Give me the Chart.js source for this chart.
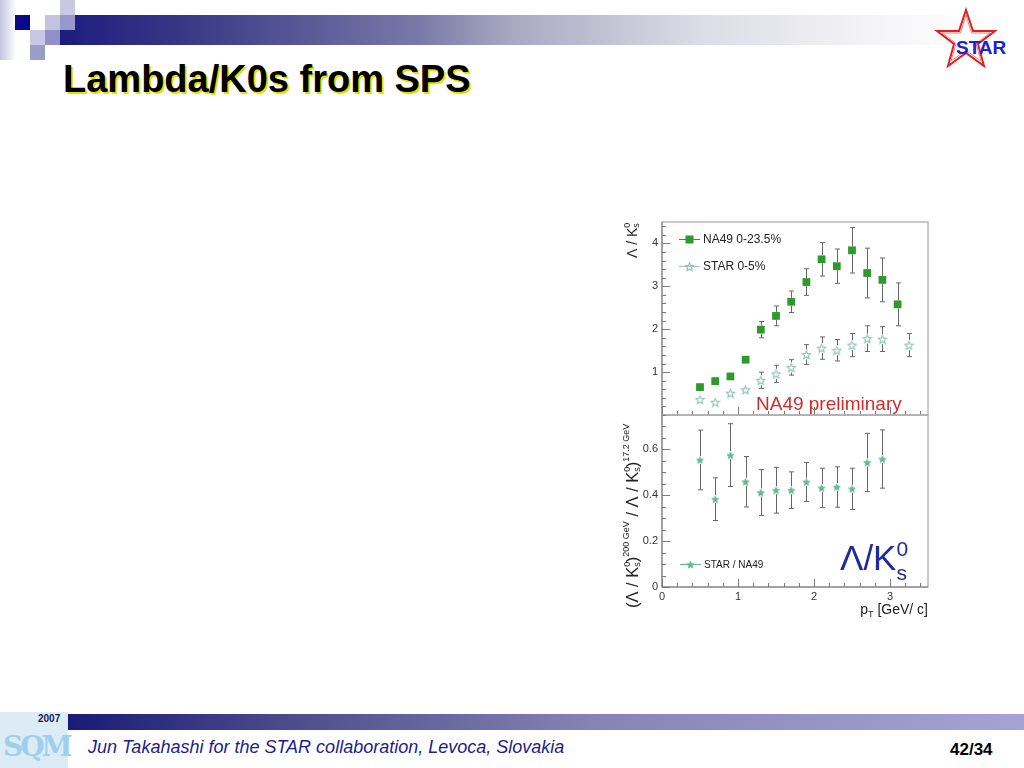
<!DOCTYPE html>
<html>
<head>
<meta charset="utf-8">
<script src="https://cdn.jsdelivr.net/npm/chart.js@4.4.1/dist/chart.umd.min.js"></script>
<style>
  body { margin: 0; width: 1024px; height: 768px; position: relative; overflow: hidden; background: #fff; font-family: Arial, "Liberation Sans", sans-serif; }
  .abs { position: absolute; }
  .sq { position: absolute; width: 15px; height: 15px; }
  #title { left: 63px; top: 58px; font-size: 38px; font-weight: bold; color: #000; text-shadow: 2px 2px 0 #e6e000; white-space: nowrap; }
  #footText { left: 88px; top: 737px; font-size: 18px; font-style: italic; color: #1c1c8c; white-space: nowrap; }
  #pageNo { left: 950px; top: 740px; font-size: 17px; font-weight: bold; color: #000; }
  #topChart { left: 600px; top: 212px; }
  #botChart { left: 600px; top: 410px; }
</style>
</head>
<body>
<!-- header decoration -->
<div class="abs" style="left:0;top:0;width:16px;height:60px;background:linear-gradient(to right,#c4c4e0,#fff)"></div>
<div class="abs" style="left:60px;top:15px;width:940px;height:30px;background:linear-gradient(to right,#1c1c7e 0%,#3c3c88 15%,#7878a8 38%,#a8a8c2 48%,#dcdce6 68%,#f6f6f8 88%,#fff 100%)"></div>
<div class="sq" style="left:60px;top:0;background:#c8c8e2"></div>
<div class="sq" style="left:15px;top:15px;background:#0a0a88"></div>
<div class="sq" style="left:45px;top:15px;background:#c4c4e0"></div>
<div class="sq" style="left:60px;top:15px;background:#9898cc"></div>
<div class="sq" style="left:30px;top:30px;background:#c8c8e4"></div>
<div class="sq" style="left:45px;top:30px;background:#9090c6"></div>
<div class="sq" style="left:30px;top:45px;background:#9c9cc8"></div>

<svg class="abs" style="left:928px;top:6px" width="92" height="68" viewBox="0 0 92 68">
  <polygon points="38,4 45,25 67,25 50,38 56,60 38,47 20,60 26,38 9,25 31,25" fill="none" stroke="#e02020" stroke-width="2"/>
  <polygon points="38,9 43.5,27 62,27 48,37.5 53,55 38,44.5 23,55 28,37.5 14,27 32.5,27" fill="none" stroke="#f08080" stroke-width="1"/>
  <text x="28" y="48" font-family="Arial, Liberation Sans, sans-serif" font-weight="bold" font-size="19" fill="#2020d0">STAR</text>
</svg>

<div id="title" class="abs">Lambda/K0s from SPS</div>

<!-- charts -->
<canvas id="topChart" class="abs" width="340" height="209"></canvas>
<canvas id="botChart" class="abs" width="340" height="218"></canvas>

<!-- footer -->
<div class="abs" style="left:68px;top:714px;width:956px;height:16px;background:linear-gradient(to right,#1a1a78 0%,#50508e 25%,#8484b6 55%,#a4a4d4 100%)"></div>
<div class="abs" style="left:0;top:712px;width:68px;height:56px;background:#dcecf6"></div>
<div class="abs" style="left:3px;top:730px;font-size:28px;font-weight:bold;color:#9fd0ea;letter-spacing:-3px;font-family:'DejaVu Serif',serif">SQM</div>
<div class="abs" style="left:38px;top:713px;font-size:10px;font-weight:bold;color:#1a1a50">2007</div>
<div id="footText" class="abs">Jun Takahashi for the STAR collaboration, Levoca, Slovakia</div>
<div id="pageNo" class="abs">42/34</div>

<script>
// ---- data ----
const ptNA49 = [0.5, 0.7, 0.9, 1.1, 1.3, 1.5, 1.7, 1.9, 2.1, 2.3, 2.5, 2.7, 2.9, 3.1];
const na49Ratio = [0.65, 0.79, 0.90, 1.29, 1.99, 2.31, 2.64, 3.10, 3.63, 3.47, 3.84, 3.31, 3.15, 2.58];
const na49Err = [0.03, 0.03, 0.04, 0.06, 0.19, 0.23, 0.25, 0.31, 0.39, 0.40, 0.53, 0.58, 0.51, 0.50];

const ptSTAR = [0.5, 0.7, 0.9, 1.1, 1.3, 1.5, 1.7, 1.9, 2.1, 2.3, 2.5, 2.7, 2.9, 3.25];
const starRatio = [0.36, 0.30, 0.51, 0.59, 0.81, 0.96, 1.11, 1.41, 1.56, 1.51, 1.63, 1.78, 1.77, 1.63];
const starErr = [0.04, 0.04, 0.05, 0.06, 0.19, 0.20, 0.18, 0.23, 0.26, 0.25, 0.27, 0.30, 0.29, 0.27];

const ptDouble = [0.5, 0.7, 0.9, 1.1, 1.3, 1.5, 1.7, 1.9, 2.1, 2.3, 2.5, 2.7, 2.9];
const doubleRatio = [0.554, 0.383, 0.575, 0.459, 0.412, 0.422, 0.422, 0.458, 0.432, 0.436, 0.428, 0.543, 0.558];
const doubleErr = [0.130, 0.093, 0.137, 0.110, 0.100, 0.100, 0.080, 0.085, 0.086, 0.088, 0.090, 0.127, 0.127];

const xTickLabels = [0, 1, 2, 3];
const topYTickLabels = [1, 2, 3, 4];
const botYTickLabels = [0, 0.2, 0.4, 0.6];

const FONT = 'Arial, "Liberation Sans", sans-serif';

function starImage(size, fill, stroke, lw) {
    const c = document.createElement("canvas");
    c.width = c.height = size;
    const g = c.getContext("2d");
    const cx = size / 2, cy = size / 2 + 0.5, R = size / 2 - lw, r = R * 0.45;
    g.beginPath();
    for (let i = 0; i < 10; i++) {
        const a = -Math.PI / 2 + i * Math.PI / 5;
        const rr = i % 2 ? r : R;
        g.lineTo(cx + rr * Math.cos(a), cy + rr * Math.sin(a));
    }
    g.closePath();
    if (fill) { g.fillStyle = fill; g.fill(); }
    if (stroke) { g.strokeStyle = stroke; g.lineWidth = lw; g.stroke(); }
    return c;
}

const openStar = starImage(11, null, "#8fc4b8", 1.1);
const fullStar = starImage(9, "#62bb8c", "#62bb8c", 0.6);

function points(xs, ys) {
    return xs.map((x, i) => ({ x: x, y: ys[i] }));
}

// draw a run of text pieces rotated or not; piece = [text, size, rise, advance]
function richText(ctx, x, y, parts, rotate, color) {
    ctx.save();
    ctx.translate(x, y);
    if (rotate) ctx.rotate(-Math.PI / 2);
    ctx.fillStyle = color;
    ctx.textBaseline = "alphabetic";
    ctx.textAlign = "left";
    let cx = 0;
    parts.forEach(p => {
        ctx.font = p[1] + "px " + FONT;
        ctx.fillText(p[0], cx, -p[2]);
        if (p[3] !== false) cx += ctx.measureText(p[0]).width;
    });
    ctx.restore();
}

function richWidth(ctx, parts) {
    let w = 0;
    parts.forEach(p => {
        ctx.font = p[1] + "px " + FONT;
        if (p[3] !== false) w += ctx.measureText(p[0]).width;
    });
    return w;
}

// ROOT-like frame with inward ticks
const rootFrame = {
    id: "rootFrame",
    afterDraw(chart, args, opts) {
        const { ctx, chartArea: a } = chart;
        const x = chart.scales.x, y = chart.scales.y;
        ctx.save();
        ctx.strokeStyle = "#b8b8b8";
        ctx.lineWidth = 1.5;
        ctx.strokeRect(a.left, a.top, a.right - a.left, a.bottom - a.top);
        ctx.strokeStyle = "#7a7a7a";
        ctx.lineWidth = 1;
        ctx.beginPath();
        ctx.moveTo(a.left, a.top);
        ctx.lineTo(a.left, a.bottom);
        ctx.lineTo(a.right, a.bottom);
        for (let i = 0; i * 0.2 < x.max - 0.01; i++) {
            const px = Math.round(x.getPixelForValue(i * 0.2)) + 0.5;
            const len = i % 5 === 0 ? 8 : 4;
            ctx.moveTo(px, a.bottom);
            ctx.lineTo(px, a.bottom - len);
        }
        const n = Math.floor(y.max / opts.yMinor + 1e-6);
        for (let i = 0; i <= n; i++) {
            const py = Math.round(y.getPixelForValue(i * opts.yMinor)) + 0.5;
            const len = i % opts.yMajorEvery === 0 ? 8 : 4;
            ctx.moveTo(a.left, py);
            ctx.lineTo(a.left + len, py);
        }
        ctx.stroke();
        ctx.restore();
    }
};

// vertical error bars with caps, kept outside the marker
const errorBars = {
    id: "errorBars",
    beforeDatasetsDraw(chart) {
        const { ctx } = chart;
        const x = chart.scales.x, y = chart.scales.y;
        chart.data.datasets.forEach(ds => {
            if (!ds.errors) return;
            ctx.save();
            ctx.strokeStyle = "#666";
            ctx.lineWidth = 1;
            ds.data.forEach((p, i) => {
                const e = ds.errors[i];
                const px = Math.round(x.getPixelForValue(p.x)) + 0.5;
                const py = y.getPixelForValue(p.y);
                const top = y.getPixelForValue(p.y + e);
                const bot = y.getPixelForValue(p.y - e);
                const g = ds.errGap;
                ctx.beginPath();
                if (py - g > top + 1) {
                    ctx.moveTo(px, py - g); ctx.lineTo(px, top);
                    ctx.moveTo(px - 2.5, top); ctx.lineTo(px + 2.5, top);
                }
                if (py + g < bot - 1) {
                    ctx.moveTo(px, py + g); ctx.lineTo(px, bot);
                    ctx.moveTo(px - 2.5, bot); ctx.lineTo(px + 2.5, bot);
                }
                ctx.stroke();
            });
            ctx.restore();
        });
    }
};

const topLabels = {
    id: "topLabels",
    afterDraw(chart) {
        const { ctx, chartArea: a } = chart;
        // y title
        richText(ctx, 37, a.top + 36, [["Λ / K", 14, 0], ["0", 9, 7, false], ["s", 9, -2]], true, "#222");
        // legend
        ctx.save();
        const lx = a.left + 17, l1 = a.top + 17, l2 = a.top + 44;
        ctx.lineWidth = 1;
        ctx.strokeStyle = "#2e9a2e";
        ctx.beginPath(); ctx.moveTo(lx, l1 + 0.5); ctx.lineTo(lx + 21, l1 + 0.5); ctx.stroke();
        ctx.fillStyle = "#2e9a2e";
        ctx.fillRect(lx + 6.5, l1 - 3.5, 8, 8);
        ctx.strokeStyle = "#9cc8be";
        ctx.beginPath(); ctx.moveTo(lx, l2 + 0.5); ctx.lineTo(lx + 21, l2 + 0.5); ctx.stroke();
        ctx.drawImage(openStar, lx + 5, l2 - 5);
        ctx.fillStyle = "#222";
        ctx.font = "12px " + FONT;
        ctx.textBaseline = "middle";
        ctx.fillText("NA49 0-23.5%", lx + 24, l1 + 1);
        ctx.fillText("STAR 0-5%", lx + 24, l2 + 1);
        // preliminary tag
        ctx.fillStyle = "#d42a2a";
        ctx.font = "19px " + FONT;
        ctx.textBaseline = "alphabetic";
        ctx.fillText("NA49 preliminary", a.left + 94, a.bottom - 5);
        ctx.restore();
    }
};

const botLabels = {
    id: "botLabels",
    afterDraw(chart) {
        const { ctx, chartArea: a } = chart;
        // y title
        richText(ctx, 38, a.bottom + 21, [
            ["(Λ / K", 16.5, 0], ["0", 9, 8, false], ["s", 9, -2], [")", 16.5, 0], ["200 GeV", 9, 9],
            [" / Λ / K", 16.5, 0], ["0", 9, 8, false], ["s", 9, -2], [")", 16.5, 0], ["17.2 GeV", 9, 9]
        ], true, "#222");
        // x title
        const xt = [["p", 14, 0], ["T", 9, -3], [" [GeV/ c]", 14, 0]];
        richText(ctx, a.right - richWidth(ctx, xt), a.bottom + 27, xt, false, "#222");
        // legend
        ctx.save();
        const lx = a.left + 18, ly = a.bottom - 23;
        ctx.strokeStyle = "#62bb8c";
        ctx.lineWidth = 1;
        ctx.beginPath(); ctx.moveTo(lx, ly + 0.5); ctx.lineTo(lx + 21, ly + 0.5); ctx.stroke();
        ctx.drawImage(fullStar, lx + 6, ly - 4);
        ctx.fillStyle = "#222";
        ctx.font = "10px " + FONT;
        ctx.textBaseline = "middle";
        ctx.fillText("STAR / NA49", lx + 24, ly + 1);
        ctx.restore();
        // big label
        const big = [["Λ/K", 35, 0], ["0", 21, 14, false], ["s", 21, -10]];
        richText(ctx, a.left + 178, a.bottom - 17, big, false, "#1e2a9e");
    }
};

function hideExcept(list) {
    return v => {
        const r = Math.round(v * 100) / 100;
        return list.includes(r) ? String(r) : "";
    };
}

// drop the label overflow padding so the plot frames sit exactly where wanted
function fixY(s) { s.width = 62; s.paddingTop = 0; s.paddingBottom = 0; }
function fixX(s) { s.height = 41; s.paddingLeft = 0; s.paddingRight = 0; }

new Chart(document.getElementById("topChart").getContext("2d"), {
    type: "scatter",
    data: {
        datasets: [
            {
                label: "NA49 0-23.5%",
                data: points(ptNA49, na49Ratio),
                errors: na49Err,
                errGap: 4,
                pointStyle: "rect",
                pointRadius: 5.5,
                backgroundColor: "#2e9a2e",
                borderColor: "#2e9a2e",
                borderWidth: 0
            },
            {
                label: "STAR 0-5%",
                data: points(ptSTAR, starRatio),
                errors: starErr,
                errGap: 5,
                pointStyle: openStar,
                pointRadius: 5
            }
        ]
    },
    options: {
        responsive: false,
        animation: false,
        layout: { padding: { top: 10, right: 12, bottom: 2, left: 0 } },
        plugins: { legend: { display: false }, tooltip: { enabled: false }, rootFrame: { yMinor: 0.2, yMajorEvery: 5 } },
        scales: {
            x: { type: "linear", min: 0, max: 3.5, display: false },
            y: {
                type: "linear", min: 0, max: 4.5,
                afterFit: fixY,
                grid: { display: false, drawTicks: false },
                border: { display: false },
                ticks: { stepSize: 1, padding: 4, color: "#333", font: { size: 11, family: FONT }, callback: hideExcept(topYTickLabels) }
            }
        }
    },
    plugins: [errorBars, rootFrame, topLabels]
});

new Chart(document.getElementById("botChart").getContext("2d"), {
    type: "scatter",
    data: {
        datasets: [
            {
                label: "STAR / NA49",
                data: points(ptDouble, doubleRatio),
                errors: doubleErr,
                errGap: 4,
                pointStyle: fullStar,
                pointRadius: 4
            }
        ]
    },
    options: {
        responsive: false,
        animation: false,
        layout: { padding: { top: 2, right: 12, bottom: 0, left: 0 } },
        plugins: { legend: { display: false }, tooltip: { enabled: false }, rootFrame: { yMinor: 0.05, yMajorEvery: 4 } },
        scales: {
            x: {
                type: "linear", min: 0, max: 3.5,
                afterFit: fixX,
                grid: { display: false, drawTicks: false },
                border: { display: false },
                ticks: { stepSize: 1, padding: 3, maxRotation: 0, color: "#333", font: { size: 11, family: FONT }, callback: hideExcept(xTickLabels) }
            },
            y: {
                type: "linear", min: 0, max: 0.75,
                afterFit: fixY,
                grid: { display: false, drawTicks: false },
                border: { display: false },
                ticks: { stepSize: 0.2, padding: 4, color: "#333", font: { size: 11, family: FONT }, callback: hideExcept(botYTickLabels) }
            }
        }
    },
    plugins: [errorBars, rootFrame, botLabels]
});
</script>
</body>
</html>
